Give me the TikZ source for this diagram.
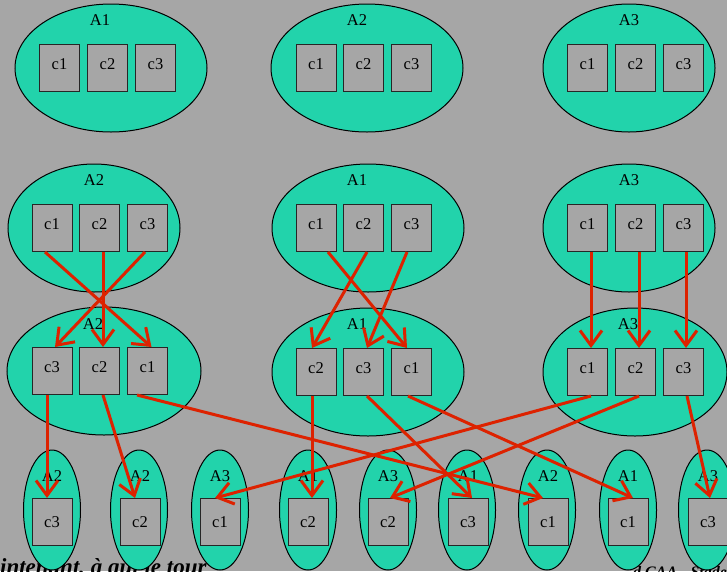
\documentclass[tikz,border=0pt]{standalone}
\usepackage{fontspec}
\setmainfont{Liberation Serif}
\usetikzlibrary{arrows.meta,shapes.geometric}
\definecolor{bg}{HTML}{A6A6A6}
\definecolor{groupfill}{HTML}{22D3AB}
\definecolor{edgered}{HTML}{DD2200}
\newcommand\cellfont{\fontsize{16.5}{19}\selectfont}
\begin{document}
\begin{tikzpicture}[x=1pt,y=-1pt,
  group/.style={ellipse, draw=black, fill=groupfill, line width=1pt, inner sep=0pt},
  wide/.style={group, minimum width=192pt, minimum height=128pt},
  narrow/.style={group, minimum width=172pt, minimum height=128pt},
  leafgrp/.style={group, minimum width=57pt, minimum height=120pt},
  cell/.style={rectangle, draw=black!85, fill=bg, line width=1pt,
    minimum width=40pt, minimum height=47pt, inner sep=0pt, font=\cellfont},
  cellhi/.style={cell, text height=6pt, text depth=4pt},
  grplabel/.style={anchor=base, inner sep=0pt, font=\cellfont},
  flow/.style={draw=edgered, line width=3pt,
    -{Straight Barb[length=15pt,width=22pt]}},
  caption/.style={inner sep=0pt, font=\bfseries\itshape}
]
\useasboundingbox (0,0) rectangle (727,571);
\clip (0,0) rectangle (727,571);
\fill[bg] (0,0) rectangle (727,571);

% texts along the bottom edge, partly hidden by the groups
\node[caption, anchor=base west, font=\fontsize{23}{26}\selectfont\bfseries\itshape]
  (caption) at (-32,574) {Maintenant, à qui le tour};
\node[caption, anchor=base west, font=\fontsize{16}{18}\selectfont\bfseries\itshape]
  (credit) at (633,577) {d CAA - Stade};

% ---------- row 1 ----------
\node[wide] (tA) at (111,68) {};
\node[grplabel] (tAl) at (100,25) {A1};
\node[cellhi] (tAc1) at (59.5,68) {c1};
\node[cellhi] (tAc2) at (107.5,68) {c2};
\node[cellhi] (tAc3) at (155.5,68) {c3};

\node[wide] (tB) at (367,68) {};
\node[grplabel] (tBl) at (357,25) {A2};
\node[cellhi] (tBc1) at (316,68) {c1};
\node[cellhi] (tBc2) at (363.5,68) {c2};
\node[cellhi] (tBc3) at (411.5,68) {c3};

\node[narrow] (tC) at (629,68) {};
\node[grplabel] (tCl) at (629,25) {A3};
\node[cellhi] (tCc1) at (587.5,68) {c1};
\node[cellhi] (tCc2) at (635.5,68) {c2};
\node[cellhi] (tCc3) at (683.5,68) {c3};

% ---------- row 2 ----------
\node[narrow] (mA) at (94,228) {};
\node[grplabel] (mAl) at (94,185) {A2};
\node[cellhi] (mAc1) at (52,228) {c1};
\node[cellhi] (mAc2) at (99.5,228) {c2};
\node[cellhi] (mAc3) at (147.5,228) {c3};

\node[wide] (mB) at (368,228) {};
\node[grplabel] (mBl) at (357,185) {A1};
\node[cellhi] (mBc1) at (316,228) {c1};
\node[cellhi] (mBc2) at (363.5,228) {c2};
\node[cellhi] (mBc3) at (411.5,228) {c3};

\node[narrow] (mC) at (629,228) {};
\node[grplabel] (mCl) at (629,185) {A3};
\node[cellhi] (mCc1) at (587.5,228) {c1};
\node[cellhi] (mCc2) at (635.5,228) {c2};
\node[cellhi] (mCc3) at (683.5,228) {c3};

% ---------- row 3 ----------
\node[wide, minimum width=194pt] (lA) at (104,371) {};
\node[grplabel] (lAl) at (93,329) {A2};
\node[cellhi] (lAc3) at (52,371) {c3};
\node[cellhi] (lAc2) at (99.5,371) {c2};
\node[cellhi] (lAc1) at (147.5,371) {c1};

\node[wide] (lB) at (368,372) {};
\node[grplabel] (lBl) at (357,329) {A1};
\node[cellhi] (lBc2) at (316,372) {c2};
\node[cellhi] (lBc3) at (363.5,372) {c3};
\node[cellhi] (lBc1) at (411.5,372) {c1};

\node[wide, minimum width=184pt] (lC) at (635,372) {};
\node[grplabel] (lCl) at (628,329) {A3};
\node[cellhi] (lCc1) at (587.5,372) {c1};
\node[cellhi] (lCc2) at (635.5,372) {c2};
\node[cellhi] (lCc3) at (683.5,372) {c3};

% ---------- row 4: single-cell groups ----------
\foreach \name/\gx/\lab/\cx/\txt in {
    b1/52/A2/52/c3, b2/139/A2/140/c2, b3/220/A3/220/c1,
    b4/308/A1/308/c2, b5/388/A3/388/c2, b6/467/A1/468/c3,
    b7/547/A2/548/c1, b8/628/A1/628/c1, b9/707/A3/708/c3}{
  \node[leafgrp] (\name) at (\gx,510) {};
  \node[grplabel] (\name l) at (\cx,481) {\lab};
  \node[cell] (\name c) at (\cx,522) {\txt};
}

% ---------- connectors row 2 -> row 3 ----------
\draw[flow] ([xshift=-7pt]mAc1.south) -- ([xshift=4pt]lAc1.north);
\draw[flow] ([xshift=3.5pt]mAc2.south) -- ([xshift=3.5pt]lAc2.north);
\draw[flow] ([xshift=-2.5pt]mAc3.south) -- ([xshift=3pt]lAc3.north);

\draw[flow] ([xshift=12pt]mBc1.south) -- ([xshift=-4.5pt]lBc1.north);
\draw[flow] ([xshift=3.5pt]mBc2.south) -- ([xshift=-4pt]lBc2.north);
\draw[flow] ([xshift=-4.5pt]mBc3.south) -- ([xshift=3.5pt]lBc3.north);

\draw[flow] ([xshift=3.5pt]mCc1.south) -- ([xshift=3.5pt]lCc1.north);
\draw[flow] ([xshift=3.5pt]mCc2.south) -- ([xshift=3.5pt]lCc2.north);
\draw[flow] ([xshift=2.5pt]mCc3.south) -- ([xshift=2.5pt]lCc3.north);

% ---------- connectors row 3 -> row 4 ----------
\draw[flow] ([xshift=-5pt]lAc3.south) -- ([xshift=-5pt]b1c.north);
\draw[flow] ([xshift=3.5pt]lAc2.south) -- ([xshift=-5pt]b2c.north);
\draw[flow] ([xshift=-10.5pt]lAc1.south) -- ([xshift=-5pt]b7c.north);

\draw[flow] ([xshift=-4pt]lBc2.south) -- ([xshift=4pt]b4c.north);
\draw[flow] ([xshift=3.5pt]lBc3.south) -- ([xshift=4pt]b6c.north);
\draw[flow] ([xshift=-3.5pt]lBc1.south) -- ([xshift=5pt]b8c.north);

\draw[flow] ([xshift=3.5pt]lCc1.south) -- ([xshift=-5pt]b3c.north);
\draw[flow] ([xshift=3.5pt]lCc2.south) -- ([xshift=2pt]b5c.north);
\draw[flow] ([xshift=3.5pt]lCc3.south) -- ([xshift=2pt]b9c.north);
\end{tikzpicture}
\end{document}
